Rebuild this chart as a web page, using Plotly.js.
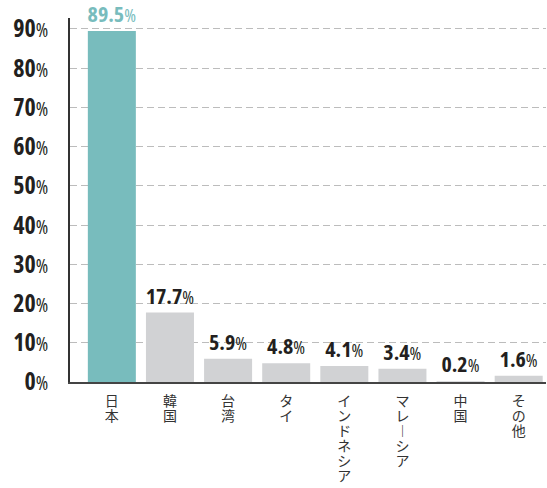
<!DOCTYPE html>
<html>
<head>
<meta charset="utf-8">
<script src="https://cdn.plot.ly/plotly-3.0.1.min.js"></script>
<style>html,body{margin:0;padding:0;background:#fff;}</style>
</head>
<body>
<div id="chart" style="width:547px;height:488px;"></div>
<script>
// Data
const categories = ["日本", "韓国", "台湾", "タイ", "インドネシア", "マレーシア", "中国", "その他"];
const categoryVertical = ["日<br>本", "韓<br>国", "台<br>湾", "タ<br>イ", "イ<br>ン<br>ド<br>ネ<br>シ<br>ア", "マ<br>レ<br>︱<br>シ<br>ア", "中<br>国", "そ<br>の<br>他"];
const shares = [89.5, 17.7, 5.9, 4.8, 4.1, 3.4, 0.2, 1.6];
const yTickVals = [0, 10, 20, 30, 40, 50, 60, 70, 80, 90];

const TEAL = "#78bcbd";
const GRAY = "#d1d2d4";
const DARK = "#231f20";

const numFont = "'Open Sans', 'DejaVu Sans Condensed', sans-serif";
const cond = "font-stretch:62.5%;";

const barColors = shares.map((v, i) => i === 0 ? TEAL : GRAY);
const textColors = shares.map((v, i) => i === 0 ? TEAL : DARK);
const barText = shares.map(v => `<span style="${cond}font-weight:bold">${v.toFixed(1)}</span><span style="${cond}font-weight:normal;font-size:18px">%</span>`);
const yTickText = yTickVals.map(v => `<span style="${cond}font-weight:bold">${v}</span><span style="${cond}font-weight:normal;font-size:19px">%</span>`);

const trace = {
  type: "bar",
  x: categories,
  y: shares,
  marker: {color: barColors, line: {width: 0}},
  text: barText,
  textposition: "outside",
  textfont: {family: numFont, size: 22, color: textColors},
  constraintext: "none",
  cliponaxis: false,
  hoverinfo: "skip"
};

const layout = {
  width: 547,
  height: 488,
  margin: {l: 70, r: 1, t: 18, b: 106},
  paper_bgcolor: "#fff",
  plot_bgcolor: "#fff",
  showlegend: false,
  bargap: 0.174,
  font: {family: numFont, color: DARK},
  xaxis: {
    type: "category",
    range: [-0.72, 7.47],
    tickmode: "array",
    tickvals: categories,
    ticktext: categoryVertical,
    tickfont: {family: "'Noto Sans CJK JP', sans-serif", size: 14, color: "#333"},
    tickangle: 0,
    ticks: "",
    ticklabelstandoff: 5,
    showline: true,
    linecolor: "#444",
    linewidth: 2,
    showgrid: false,
    zeroline: false,
    fixedrange: true
  },
  yaxis: {
    range: [0, 92.8],
    tickmode: "array",
    tickvals: yTickVals,
    ticktext: yTickText,
    tickfont: {family: numFont, size: 24, color: DARK},
    ticks: "",
    ticklabelstandoff: 15,
    showline: true,
    linecolor: "#333",
    linewidth: 2,
    showgrid: true,
    gridcolor: "#bcbcbc",
    gridwidth: 1,
    griddash: "7px,4px",
    zeroline: false,
    fixedrange: true
  }
};

Plotly.newPlot("chart", [trace], layout, {displayModeBar: false, staticPlot: true}).then(gd => {
  // tighten vertical (stacked) category label line spacing
  gd.querySelectorAll(".xtick text tspan.line").forEach(t => {
    const dy = t.getAttribute("dy");
    if (dy && dy.endsWith("em")) {
      const v = parseFloat(dy);
      if (v > 0) t.setAttribute("dy", (v * 1.08 / 1.3) + "em");
    }
  });
});
</script>
</body>
</html>
